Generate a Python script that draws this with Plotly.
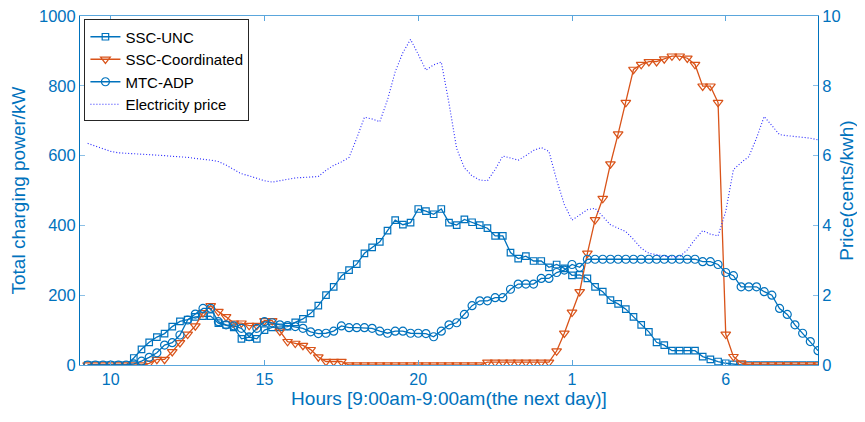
import numpy as np
import plotly.graph_objects as go

# 15-minute steps from 9:15 to 9:00 next day (hours as 9..33)
hours = [9 + 0.25 * k for k in range(1, 97)]

tick_vals = [10, 15, 20, 25, 30]
tick_text = ["10", "15", "20", "1", "6"]

ssc_unc = [0, 0, 0, 0, 0, 0,
           20, 45, 65, 80, 90, 110, 125, 130, 138, 140, 140, 120, 115, 108, 75, 80, 75, 100, 108,
           108, 110, 122, 132, 148, 170,
           200, 224, 255, 272, 289, 320, 337, 353, 385, 415,
           402, 408, 447, 441, 432, 447, 408, 401, 417, 409,
           401, 392, 370, 370, 322, 305, 312, 298, 298, 280,
           288, 277, 257, 258, 248, 224, 210, 186, 175, 160,
           138, 115, 95, 65, 57, 41, 41, 41, 41, 24,
           16, 10, 5, 2,
           0, 0, 0, 0, 0, 0, 0, 0, 0, 0, 0]

ssc_coord = [0, 0, 0, 0, 0, 0, 0, 0,
             5, 16, 16, 38, 64, 88, 112, 150, 170, 153, 138, 120, 120, 113, 113, 127, 127,
             97, 67, 62, 56, 44, 23, 10, 10, 10,
             0, 0, 0, 0, 0, 0, 0, 0, 0, 0, 0, 0, 0, 0, 0, 0, 0, 0,
             8, 8, 8, 8, 8, 8, 8, 8, 8,
             40, 91, 151, 210, 320, 416, 477, 576, 662, 752, 847, 861, 869, 869, 877,
             885, 885, 879, 861, 799, 799, 752, 88, 24, 6,
             0, 0, 0, 0, 0, 0, 0, 0, 0, 0]

mtc_adp = [0, 0, 0, 0, 0, 0,
           3, 11, 22, 35, 57, 64, 86, 129, 146, 162, 162, 124, 115, 112, 105, 81, 105, 124, 121,
           115, 113, 110, 105, 95, 90,
           91, 97, 112, 107, 107, 107, 105, 97, 91, 97,
           97, 91, 91, 90, 81, 97, 115, 121, 145, 170,
           184, 184, 193, 193, 217, 232, 232, 232, 248, 248,
           265, 272, 288, 280, 303, 303, 303, 303, 303, 303,
           303, 303, 303, 303, 303, 303, 303, 303, 303, 296,
           296, 288, 265, 256, 224, 224, 224, 210, 200, 162,
           145, 115, 91, 67, 41]

price = [6.35, 6.28, 6.20, 6.12, 6.08, 6.07, 6.06, 6.05, 6.03, 6.01,
         6.00, 5.98, 5.97, 5.95, 5.92, 5.90, 5.87, 5.83, 5.73, 5.60,
         5.48, 5.42, 5.35, 5.28, 5.24, 5.27, 5.32, 5.36, 5.37, 5.37,
         5.40, 5.58, 5.72, 5.82, 5.95, 6.50, 7.10, 7.05, 6.97, 7.60,
         8.40, 8.95, 9.33, 8.90, 8.45, 8.60, 8.68, 7.50, 6.20, 5.65,
         5.42, 5.30, 5.28, 5.60, 5.99, 5.93, 5.87, 6.00, 6.15, 6.23,
         6.12, 5.30, 4.60, 4.15, 4.30, 4.45, 4.49, 4.25, 4.02, 3.92,
         3.82, 3.60, 3.35, 3.20, 3.15, 3.12, 3.10, 3.10, 3.30, 3.60,
         3.85, 3.75, 3.70, 4.40, 5.60, 5.80, 5.97, 6.50, 7.12, 6.85,
         6.60, 6.57, 6.55, 6.54, 6.50, 6.45]

BLUE = "#0072BD"
ORANGE = "#D95319"
FONT = "Liberation Sans, Arial, sans-serif"

fig = go.Figure()

fig.add_trace(go.Scatter(
    x=hours, y=ssc_unc, mode="lines+markers", name="SSC-UNC",
    line=dict(color=BLUE, width=1.3),
    marker=dict(symbol="square-open", size=6.5, color=BLUE, line=dict(width=1.2))
))
fig.add_trace(go.Scatter(
    x=hours, y=ssc_coord, mode="lines+markers", name="SSC-Coordinated",
    line=dict(color=ORANGE, width=1.3),
    marker=dict(symbol="triangle-down-open", size=8.5, color=ORANGE, line=dict(width=1.2))
))
fig.add_trace(go.Scatter(
    x=hours, y=mtc_adp, mode="lines+markers", name="MTC-ADP",
    line=dict(color=BLUE, width=1.3),
    marker=dict(symbol="circle-open", size=8, color=BLUE, line=dict(width=1.2))
))
fig.add_trace(go.Scatter(
    x=hours, y=price, mode="lines", name="Electricity price", yaxis="y2",
    line=dict(color="#2525ff", width=1.1, dash="1px,2px")
))

# page body has an 8px margin, so the figure is sized/offset to compensate
fig.update_layout(
    width=857, height=414,
    margin=dict(l=72, r=47, t=8, b=57),
    paper_bgcolor="white", plot_bgcolor="white",
    font=dict(family=FONT, size=16, color=BLUE),
    showlegend=True,
    legend=dict(
        x=0.006, y=0.99, xanchor="left", yanchor="top",
        bgcolor="white", bordercolor="#262626", borderwidth=1,
        font=dict(family=FONT, size=15, color="black"),
        tracegroupgap=0, itemwidth=30,
    ),
    xaxis=dict(
        range=[9, 33], tickvals=tick_vals, ticktext=tick_text,
        showgrid=False, zeroline=False, automargin=False,
        showline=True, linecolor="#5aa6dc", linewidth=1, mirror="ticks",
        ticks="inside", ticklen=5, tickcolor="#5aa6dc",
        tickfont=dict(size=16, color=BLUE),
        title=dict(text="Hours [9:00am-9:00am(the next day)]", font=dict(size=19, color=BLUE), standoff=4),
    ),
    yaxis=dict(
        range=[0, 1000], dtick=200,
        showgrid=False, zeroline=False, automargin=False,
        showline=True, linecolor=BLUE, linewidth=1,
        ticks="inside", ticklen=5, tickcolor="#8cc0e6",
        tickfont=dict(size=16.5, color=BLUE), ticklabeloverflow="allow",
        title=dict(text="Total charging power/kW", font=dict(size=19, color=BLUE), standoff=14),
    ),
    yaxis2=dict(
        range=[0, 10], dtick=2, overlaying="y", side="right",
        showgrid=False, zeroline=False, automargin=False,
        showline=True, linecolor=BLUE, linewidth=1,
        ticks="inside", ticklen=5, tickcolor="#8cc0e6",
        tickfont=dict(size=16.5, color=BLUE), ticklabeloverflow="allow",
        title=dict(text="Price(cents/kwh)", font=dict(size=19, color=BLUE), standoff=0),
    ),
)

fig.write_html("out.html")
